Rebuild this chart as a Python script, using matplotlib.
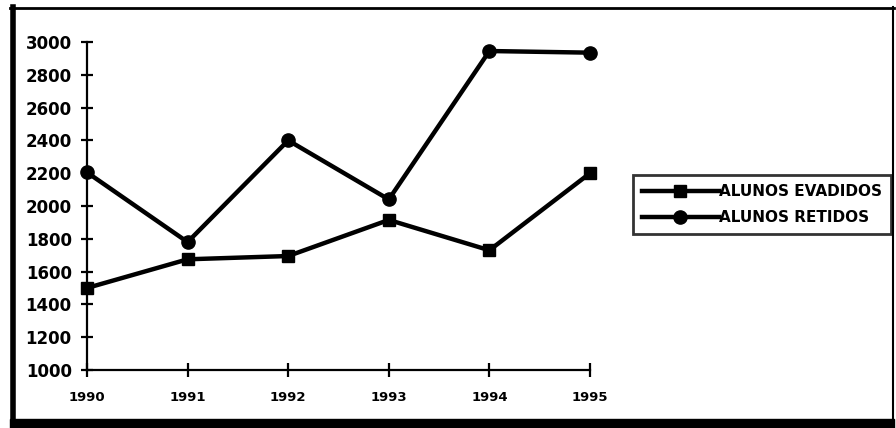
import matplotlib.pyplot as plt
from matplotlib.lines import Line2D
from matplotlib.patches import Rectangle

anos = [1990, 1991, 1992, 1993, 1994, 1995]
evadidos = [1500, 1675, 1695, 1915, 1730, 2200]
retidos = [2205, 1780, 2400, 2040, 2945, 2935]
y_ticks = list(range(1000, 3001, 200))

W, H = 896, 428
plt.rcParams['font.family'] = ['DejaVu Sans']
plt.rcParams['font.weight'] = 'bold'

fig = plt.figure(figsize=(W / 100, H / 100), dpi=100)

def fx(px):
    return px / W

def fy(py):
    return 1 - py / H

# axes area (from pixel positions)
ax = fig.add_axes([fx(87), fy(370), fx(590) - fx(87), fy(42) - fy(370)])

ax.plot(anos, evadidos, color='black', lw=3.2, marker='s', ms=8.5,
        label='ALUNOS EVADIDOS', clip_on=False, zorder=3)
ax.plot(anos, retidos, color='black', lw=3.2, marker='o', ms=9.5,
        label='ALUNOS RETIDOS', clip_on=False, zorder=3)

ax.set_xlim(1990, 1995)
ax.set_ylim(1000, 3000)
ax.set_xticks(anos)
ax.set_yticks(y_ticks)
ax.set_xticklabels([str(a) for a in anos], fontsize=9.5, fontweight='bold')
ax.set_yticklabels([str(v) for v in y_ticks], fontsize=12, fontweight='bold')

for s in ['top', 'right']:
    ax.spines[s].set_visible(False)
for s in ['left', 'bottom']:
    ax.spines[s].set_linewidth(1.6)
    ax.spines[s].set_color('black')

ax.tick_params(axis='y', direction='inout', length=8, width=1.6, pad=7)
ax.tick_params(axis='x', direction='inout', length=10, width=1.6, pad=10)

leg = fig.legend(loc='upper left', bbox_to_anchor=(fx(633), fy(175)),
                 borderaxespad=0, frameon=True, fancybox=False,
                 handlelength=5.0, handletextpad=0.0, labelspacing=0.7,
                 borderpad=0.6, prop={'weight': 'bold', 'size': 11})
leg.get_frame().set_edgecolor('black')
leg.get_frame().set_linewidth(2)

# outer frame of the scanned chart
fig.add_artist(Line2D([fx(10), fx(894)], [fy(7.5), fy(7.5)], color='black', lw=2))
fig.add_artist(Line2D([fx(12.5), fx(12.5)], [fy(6.5), fy(420)], color='black', lw=4))
fig.add_artist(Line2D([fx(893), fx(893)], [fy(6.5), fy(420)], color='black', lw=1.5))
fig.add_artist(Rectangle((fx(10), 0), fx(894) - fx(10), fy(419),
                         transform=fig.transFigure, color='black'))

fig.savefig('out.png', dpi=100)
